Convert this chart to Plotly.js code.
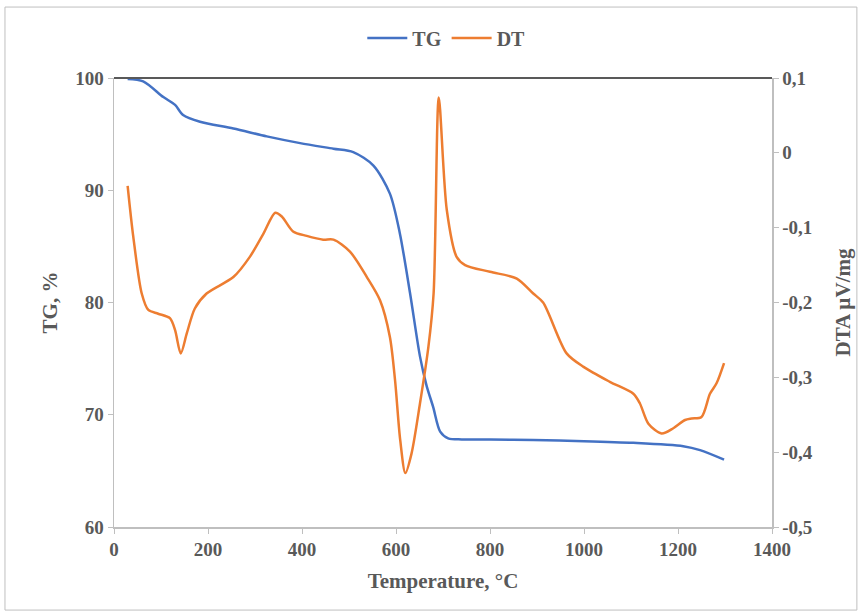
<!DOCTYPE html>
<html><head><meta charset="utf-8">
<script src="https://cdn.plot.ly/plotly-3.0.1.min.js"></script>
<style>html,body{margin:0;padding:0;background:#fff;}#chart{width:865px;height:613px;}</style>
</head><body><div id="chart"></div>
<script>
const tgTemp = [29, 62, 105, 130, 147, 183, 254, 325, 396, 467, 509, 552, 587, 608, 630, 651, 665, 679, 694, 711, 740, 800, 892, 1000, 1105, 1211, 1247, 1298];
const tgVal  = [99.9, 99.7, 98.3, 97.6, 96.7, 96.1, 95.5, 94.8, 94.2, 93.7, 93.4, 92.2, 89.7, 86.2, 80.8, 75.2, 72.6, 70.7, 68.5, 67.9, 67.8, 67.8, 67.75, 67.65, 67.5, 67.2, 66.85, 66.0];
const dtTemp = [29, 41, 59, 73, 94, 119, 130, 142, 155, 172, 197, 254, 289, 318, 343, 357, 381, 410, 445, 467, 502, 538, 566, 587, 598, 609, 620, 633, 651, 669, 680, 691, 708, 729, 747, 800, 857, 892, 913, 963, 999, 1055, 1105, 1119, 1137, 1165, 1190, 1215, 1229, 1250, 1268, 1282, 1298];
const dtVal  = [-0.044, -0.112, -0.188, -0.210, -0.215, -0.221, -0.237, -0.268, -0.241, -0.208, -0.188, -0.166, -0.139, -0.108, -0.080, -0.085, -0.105, -0.111, -0.116, -0.116, -0.132, -0.166, -0.197, -0.246, -0.304, -0.384, -0.428, -0.402, -0.335, -0.259, -0.188, 0.074, -0.076, -0.139, -0.150, -0.159, -0.168, -0.188, -0.200, -0.268, -0.286, -0.306, -0.322, -0.335, -0.362, -0.375, -0.368, -0.357, -0.355, -0.353, -0.322, -0.308, -0.281];
const xTicks = [0, 200, 400, 600, 800, 1000, 1200, 1400];
const tgTicks = [60, 70, 80, 90, 100];
const dtTicks = [0.1, 0, -0.1, -0.2, -0.3, -0.4, -0.5];
const dtTickText = ['0,1', '0', '-0,1', '-0,2', '-0,3', '-0,4', '-0,5'];

const gray = '#595959';
const fam = 'Liberation Serif, Times New Roman, serif';
const tickFont = {family: fam, size: 19, color: gray, weight: 'bold'};
const titleFont = {family: fam, size: 21, color: gray, weight: 'bold'};

const traces = [
  {x: tgTemp, y: tgVal, name: 'TG', type: 'scatter', mode: 'lines',
   line: {color: '#4472C4', width: 2.5, shape: 'spline', smoothing: 0.8}, yaxis: 'y'},
  {x: dtTemp, y: dtVal, name: 'DT', type: 'scatter', mode: 'lines',
   line: {color: '#ED7D31', width: 2.5, shape: 'spline', smoothing: 0.8}, yaxis: 'y2'}
];

const layout = {
  width: 865, height: 613,
  margin: {l: 114, r: 93, t: 78, b: 86},
  paper_bgcolor: '#fff', plot_bgcolor: '#fff',
  font: tickFont,
  showlegend: true,
  legend: {orientation: 'h', x: 0.505, xanchor: 'center', y: 1.089, yanchor: 'middle',
           font: {family: fam, size: 20, color: gray, weight: 'bold'}, itemwidth: 40, tracegroupgap: 0},
  xaxis: {range: [0, 1400], tickvals: xTicks, showgrid: false, zeroline: false,
          showline: true, linecolor: '#bfbfbf', linewidth: 1.5, ticks: 'outside', ticklen: 5, tickcolor: '#bfbfbf',
          tickfont: tickFont,
          title: {text: 'Temperature, °C', font: titleFont, standoff: 14}},
  yaxis: {range: [60, 100], tickvals: tgTicks, showgrid: false, zeroline: false,
          showline: true, linecolor: '#bfbfbf', linewidth: 1.5, ticks: 'outside', ticklen: 5, tickcolor: '#bfbfbf',
          tickfont: tickFont,
          title: {text: 'TG, %', font: titleFont, standoff: 12}},
  yaxis2: {range: [-0.5, 0.1], overlaying: 'y', side: 'right', tickvals: dtTicks, ticktext: dtTickText,
           showgrid: false, zeroline: false,
           showline: true, linecolor: '#bfbfbf', linewidth: 1.5, ticks: 'outside', ticklen: 5, tickcolor: '#bfbfbf',
           tickfont: tickFont,
           title: {text: 'DTA µV/mg', font: titleFont, standoff: 23}},
  shapes: [
    {type: 'line', xref: 'paper', yref: 'paper', x0: 0, x1: 1, y0: 1, y1: 1,
     line: {color: '#595959', width: 2}},
    {type: 'rect', xref: 'paper', yref: 'paper', x0: -0.1657, x1: 1.129, y0: -0.185, y1: 1.158,
     line: {color: '#bfbfbf', width: 1}, fillcolor: 'rgba(0,0,0,0)'}
  ]
};

Plotly.newPlot('chart', traces, layout, {staticPlot: true, displayModeBar: false});
</script></body></html>
